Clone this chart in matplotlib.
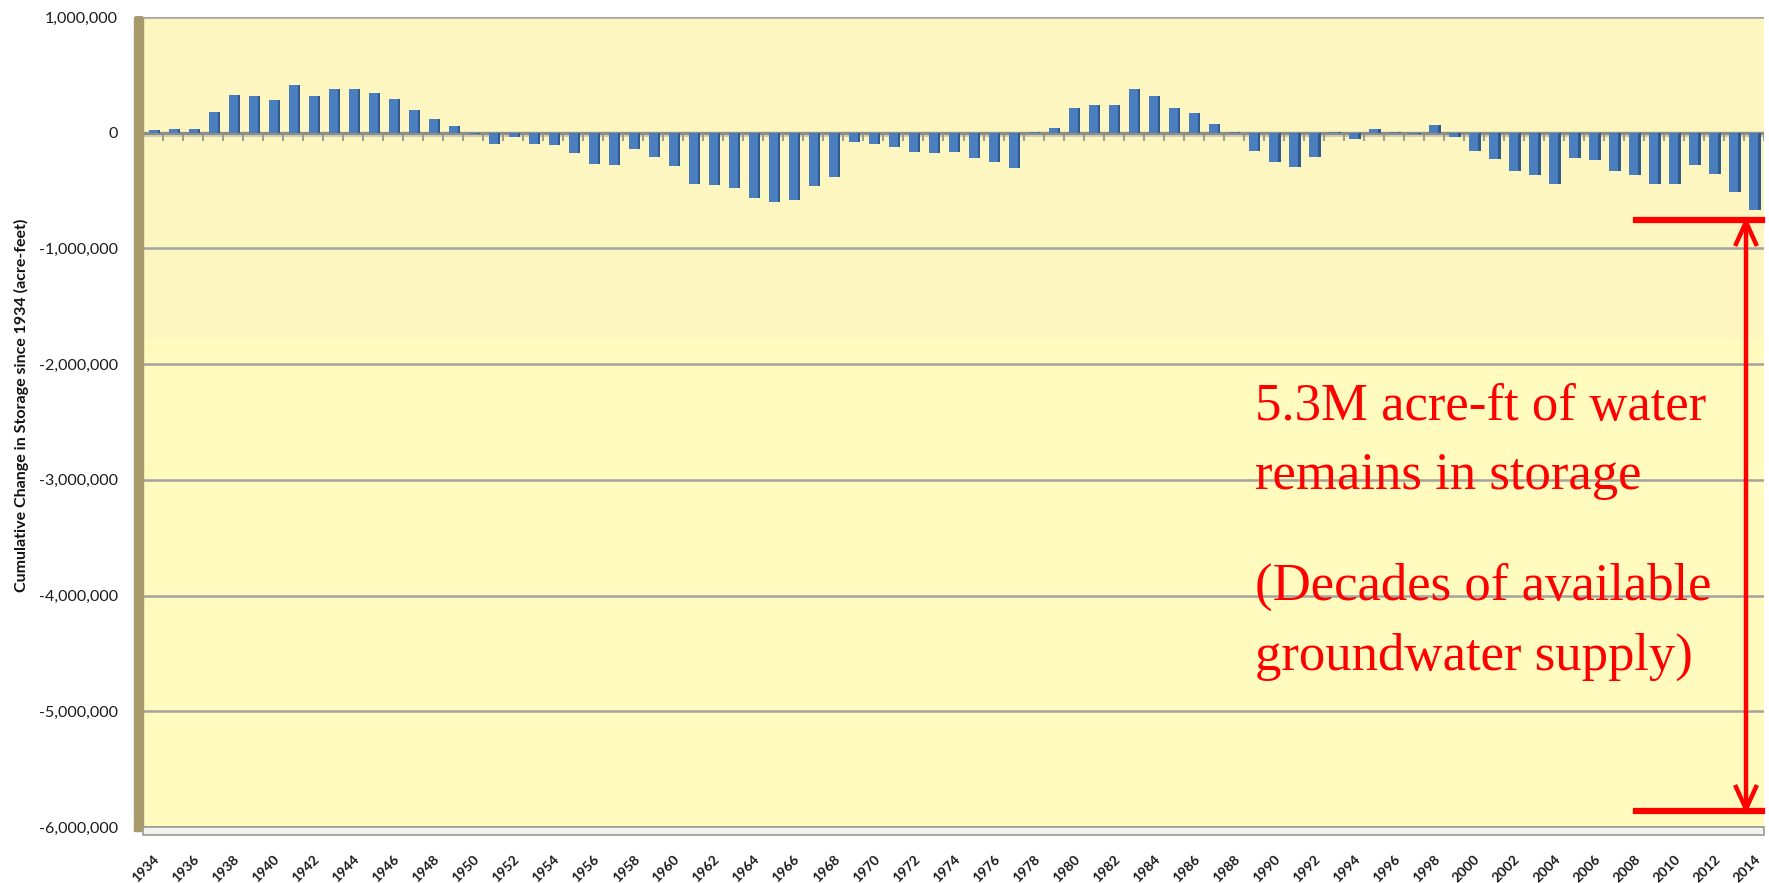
import matplotlib
matplotlib.use("Agg")
import matplotlib.pyplot as plt
import matplotlib.ticker as mticker
from matplotlib.patches import Rectangle
import numpy as np

# ---------------- data ----------------
years = list(range(1934, 2015))
storage_change = [
    20000, 30000, 35000, 180000, 330000, 315000, 285000, 410000, 320000, 375000,   # 1934-1943
    380000, 345000, 290000, 200000, 115000, 55000, -10000, -95000, -40000, -100000,  # 1944-1953
    -110000, -175000, -270000, -275000, -145000, -210000, -290000, -440000, -450000, -480000,  # 1954-1963
    -565000, -595000, -585000, -460000, -380000, -80000, -100000, -120000, -165000, -175000,  # 1964-1973
    -165000, -215000, -250000, -305000, 10000, 40000, 210000, 240000, 240000, 375000,  # 1974-1983
    320000, 215000, 170000, 76000, 10000, -160000, -255000, -300000, -210000, 10000,  # 1984-1993
    -55000, 30000, 10000, -15000, 65000, -35000, -160000, -230000, -335000, -365000,  # 1994-2003
    -440000, -215000, -240000, -335000, -365000, -445000, -440000, -280000, -355000, -510000,  # 2004-2013
    -670000,  # 2014
]
tick_years = list(range(1934, 2015, 2))
y_ticks = [1000000, 0, -1000000, -2000000, -3000000, -4000000, -5000000, -6000000]
y_label = "Cumulative Change in Storage since 1934 (acre-feet)"
note_lines = ["5.3M acre-ft of water", "remains in storage",
              "(Decades of available", "groundwater supply)"]

# ---------------- figure ----------------
W, H = 1769, 883
fig = plt.figure(figsize=(W / 100, H / 100), dpi=100)
fig.patch.set_facecolor("white")

def fx(px):
    return px / W

def fy(py):
    return 1 - py / H

ax_left, ax_right, ax_top, ax_bot = 143, 1764, 17, 827
ax = fig.add_axes([fx(ax_left), fy(ax_bot), fx(ax_right - ax_left), (ax_bot - ax_top) / H])
ax.set_facecolor("#FFFBBF")
ax.set_xlim(1933.5, 2014.5)
ax.set_ylim(-6000000, 1000000)

# upper slightly darker band (pasted image region)
ax.axhspan(-1770000, 1000000, color="#FDF6C1", zorder=0, lw=0)

# gridlines
ax.set_yticks(y_ticks)
ax.yaxis.grid(True, color="#A3A3A0", lw=1.8, zorder=1)
ax.set_axisbelow(True)

# zero (category) axis line
ax.axhline(0, color="#8E8E86", lw=2.4, zorder=2)
ax.axhline(-25000, color="#C9C6B0", lw=1.2, zorder=2)
# small category tick marks along the zero line
ax.vlines(np.array(years) + 0.5, -70000, 0, color="#8E8E86", lw=1.2, zorder=2)

yrs = np.array(years, dtype=float)
vals = np.array(storage_change, dtype=float)
# side (depth) face
ax.bar(yrs + 0.27, vals, width=0.14, color="#2E5A8E", zorder=3, lw=0)
# front face
ax.bar(yrs, vals, width=0.45, color="#4A7EBE", zorder=4, lw=0)

# axes styling
for s in ["top", "right", "bottom", "left"]:
    ax.spines[s].set_visible(False)
ax.yaxis.set_major_formatter(mticker.FuncFormatter(lambda v, p: f"{int(v):,}"))
ax.tick_params(axis="y", length=6, width=1.2, color="#8E8E86", pad=12,
               labelsize=11.5, labelcolor="#1a1a1a")
for t in ax.get_yticklabels():
    t.set_family("Lato")

ax.set_xticks(tick_years)
ax.set_xticklabels([str(y) for y in tick_years], rotation=45, ha="right",
                   va="top", rotation_mode="anchor", fontsize=10,
                   fontweight="bold", family="Lato", color="#1a1a1a")
ax.tick_params(axis="x", length=0, pad=19)

# left wall (3D) and floor
fig.patches.append(Rectangle((fx(134), fy(ax_bot + 4)), fx(9), (ax_bot + 4 - ax_top) / H,
                             transform=fig.transFigure, color="#A99A6C", zorder=5))
fig.patches.append(Rectangle((fx(143), fy(ax_bot + 8)), fx(ax_right - 143), 8 / H,
                             transform=fig.transFigure, facecolor="#F2F2F0",
                             edgecolor="#9A9A94", lw=1.2, zorder=5))

# y label
fig.text(fx(21), fy(405), y_label, rotation=90, ha="center", va="center",
         fontsize=11.5, fontweight="bold", family="Lato", color="#111111")

# red annotation
red = "#FF0000"
x_v = 1746
fig.add_artist(plt.Line2D([fx(1636), fx(1762)], [fy(220), fy(220)], color=red, lw=4.5,
                          transform=fig.transFigure))
fig.add_artist(plt.Line2D([fx(1636), fx(1762)], [fy(811), fy(811)], color=red, lw=4.5,
                          transform=fig.transFigure))
fig.add_artist(plt.Line2D([fx(x_v), fx(x_v)], [fy(222), fy(809)], color=red, lw=3.2,
                          transform=fig.transFigure))
for (tipy, d) in [(222, 1), (809, -1)]:
    fig.add_artist(plt.Line2D([fx(x_v - 10), fx(x_v), fx(x_v + 10)],
                              [fy(tipy + d * 22), fy(tipy), fy(tipy + d * 22)],
                              color=red, lw=3.2, transform=fig.transFigure,
                              solid_joinstyle="miter"))

baselines = [420, 489, 600, 670]
for line, b in zip(note_lines, baselines):
    fig.text(fx(1255), fy(b), line, ha="left", va="baseline", fontsize=38,
             family="Liberation Serif", color=red)

fig.savefig("out.png", dpi=100, facecolor="white")
